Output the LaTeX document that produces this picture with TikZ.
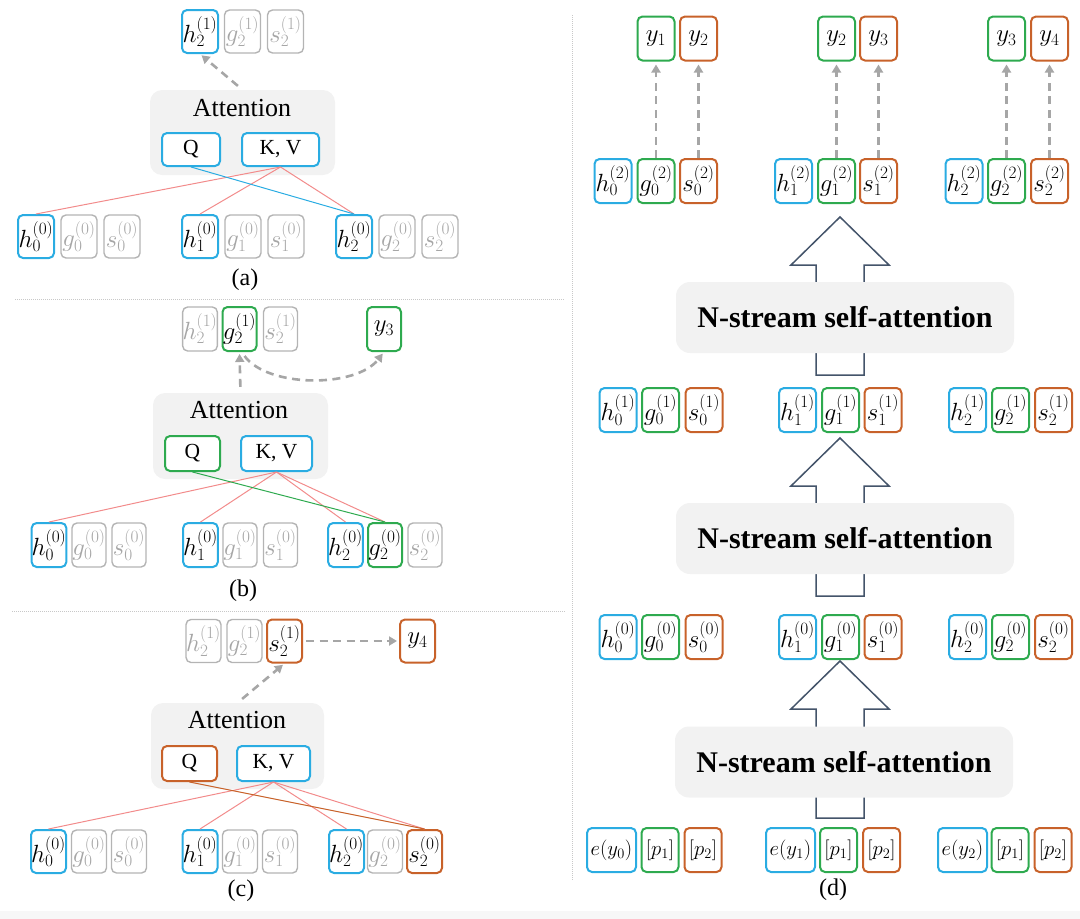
\documentclass[tikz,border=0pt]{standalone}
\usepackage{fontspec}
\setmainfont{Liberation Serif}
\usetikzlibrary{arrows.meta}
\definecolor{cblue}{HTML}{2AACE2}
\definecolor{cgreen}{HTML}{2EAA4F}
\definecolor{corange}{HTML}{C8622A}
\definecolor{cgraybox}{HTML}{B4B4B4}
\definecolor{cgraytext}{HTML}{A6A6A6}
\definecolor{attfill}{HTML}{F2F2F2}
\definecolor{cred}{HTML}{F28B8B}
\definecolor{carrow}{HTML}{44546A}
\definecolor{cdash}{HTML}{A6A6A6}
\definecolor{csep}{HTML}{C8C8C8}
\definecolor{cstrip}{HTML}{F7F7F7}
\begin{document}
\begin{tikzpicture}[x=1pt,y=-1pt,
  box/.style={draw, rounded corners=5pt, line width=2pt, inner sep=0pt, fill=white,
    font=\fontsize{23}{26}\selectfont},
  pa/.style={minimum width=36pt, minimum height=43pt},
  pb/.style={minimum width=34pt, minimum height=44pt},
  pc/.style={minimum width=35pt, minimum height=43pt},
  pd/.style={minimum width=37pt, minimum height=44pt},
  inp/.style={font=\fontsize{21.5}{25}\selectfont},
  bb/.style={box, draw=cblue},
  gb/.style={box, draw=cgreen},
  ob/.style={box, draw=corange},
  nb/.style={box, draw=cgraybox, line width=1.4pt, text=cgraytext},
  qk/.style={font=\fontsize{21.5}{24}\selectfont},
  attbox/.style={fill=attfill, rounded corners=12pt, draw=none, inner sep=0pt},
  atttext/.style={font=\fontsize{26}{30}\selectfont, inner sep=0pt},
  caption/.style={font=\fontsize{24}{28}\selectfont, inner sep=0pt},
  nsbox/.style={fill=attfill, rounded corners=14pt, draw=none, inner sep=0pt,
    minimum width=338pt, minimum height=71pt, font=\fontsize{30}{34}\selectfont\bfseries},
  redline/.style={draw=cred, line width=1pt},
  dasharrow/.style={draw=cdash, line width=2.6pt, dash pattern=on 8pt off 5.5pt,
    -{Triangle[length=8pt,width=9pt]}},
  sep/.style={draw=csep, line width=0.8pt, dash pattern=on 1pt off 1pt},
  bigarrow/.style={draw=carrow, line width=1.5pt, fill=white, line join=miter}
]
\useasboundingbox (0,0) rectangle (1080,919);
\fill[cstrip] (0,911) rectangle (1080,919);

% separators
\draw[sep] (15,299) -- (565,299);
\draw[sep] (12,611) -- (565,611);
\draw[sep] (572,15) -- (572,880);

%%%%%%%%%%%%%%%% panel (a)
\node[attbox, minimum width=185pt, minimum height=85pt] (attA) at (242.5,132.5) {};
\node[atttext] (attAt) at (242,108) {Attention};
\node[bb, qk, minimum width=58pt, minimum height=33pt] (qA) at (191,149.5) {Q};
\node[bb, qk, minimum width=77pt, minimum height=33pt] (kvA) at (280.5,149.5) {K, V};

\node[bb,pa] (h21a) at (200,31.5) {$h_2^{(1)}$};
\node[nb,pa] (g21a) at (242.5,31.5) {$g_2^{(1)}$};
\node[nb,pa] (s21a) at (285.5,31.5) {$s_2^{(1)}$};

\node[bb,pa] (h0a) at (36,236.5) {$h_0^{(0)}$};
\node[nb,pa] (g0a) at (79,236.5) {$g_0^{(0)}$};
\node[nb,pa] (s0a) at (122,236.5) {$s_0^{(0)}$};
\node[bb,pa] (h1a) at (200,236.5) {$h_1^{(0)}$};
\node[nb,pa] (g1a) at (243,236.5) {$g_1^{(0)}$};
\node[nb,pa] (s1a) at (286,236.5) {$s_1^{(0)}$};
\node[bb,pa] (h2a) at (354,236.5) {$h_2^{(0)}$};
\node[nb,pa] (g2a) at (397,236.5) {$g_2^{(0)}$};
\node[nb,pa] (s2a) at (440,236.5) {$s_2^{(0)}$};

\draw[redline] (kvA.south) -- (h0a.north);
\draw[redline] (kvA.south) -- (h1a.north);
\draw[redline] (kvA.south) -- (h2a.north);
\draw[draw=cblue, line width=1pt] (qA.south) -- (h2a.north);
\draw[dasharrow, shorten <=6pt, shorten >=2pt] (attA.north) -- (h21a.south);
\node[caption] (capA) at (245,280) {(a)};

%%%%%%%%%%%%%%%% panel (b)
\node[attbox, minimum width=175pt, minimum height=86pt] (attB) at (240.5,436) {};
\node[atttext] (attBt) at (239,410) {Attention};
\node[gb, qk, minimum width=55pt, minimum height=35pt] (qB) at (192.5,453.5) {Q};
\node[bb, qk, minimum width=71pt, minimum height=35pt] (kvB) at (276.5,453.5) {K, V};

\node[nb,pb] (h21b) at (200,329) {$h_2^{(1)}$};
\node[gb,pb] (g21b) at (239.5,329) {$g_2^{(1)}$};
\node[nb,pb] (s21b) at (280.5,329) {$s_2^{(1)}$};
\node[gb,pb] (y3b) at (384,329) {$y_3$};

\node[bb,pb] (h0b) at (49,545) {$h_0^{(0)}$};
\node[nb,pb] (g0b) at (89,545) {$g_0^{(0)}$};
\node[nb,pb] (s0b) at (129,545) {$s_0^{(0)}$};
\node[bb,pb] (h1b) at (200.5,545) {$h_1^{(0)}$};
\node[nb,pb] (g1b) at (240,545) {$g_1^{(0)}$};
\node[nb,pb] (s1b) at (280.5,545) {$s_1^{(0)}$};
\node[bb,pb] (h2b) at (345.5,545) {$h_2^{(0)}$};
\node[gb,pb] (g2b) at (385,545) {$g_2^{(0)}$};
\node[nb,pb] (s2b) at (425,545) {$s_2^{(0)}$};

\draw[redline] (kvB.south) -- (h0b.north);
\draw[redline] (kvB.south) -- (h1b.north);
\draw[redline] (kvB.south) -- (h2b.north);
\draw[redline] (kvB.south) -- (g2b.north);
\draw[draw=cgreen, line width=1pt] (qB.south) -- (g2b.north);
\draw[dasharrow, shorten <=6pt, shorten >=2pt] (attB.north) -- (g21b.south);
\draw[dasharrow, shorten >=2pt] ([xshift=5pt,yshift=-4pt]g21b.south) .. controls (268,388) and (356,388) .. (y3b.south);
\node[caption] (capB) at (243,591) {(b)};

%%%%%%%%%%%%%%%% panel (c)
\node[attbox, minimum width=173pt, minimum height=86pt] (attC) at (237.5,746) {};
\node[atttext] (attCt) at (237,720) {Attention};
\node[ob, qk, minimum width=55pt, minimum height=35pt] (qC) at (189.5,763.5) {Q};
\node[bb, qk, minimum width=73pt, minimum height=35pt] (kvC) at (273.5,763.5) {K, V};

\node[nb,pc] (h21c) at (203.5,641) {$h_2^{(1)}$};
\node[nb,pc] (g21c) at (244.5,641) {$g_2^{(1)}$};
\node[ob,pc] (s21c) at (284.5,641) {$s_2^{(1)}$};
\node[ob,pc] (y4c) at (417.5,641) {$y_4$};

\node[bb,pc] (h0c) at (48.5,851.5) {$h_0^{(0)}$};
\node[nb,pc] (g0c) at (89,851.5) {$g_0^{(0)}$};
\node[nb,pc] (s0c) at (129,851.5) {$s_0^{(0)}$};
\node[bb,pc] (h1c) at (200,851.5) {$h_1^{(0)}$};
\node[nb,pc] (g1c) at (240,851.5) {$g_1^{(0)}$};
\node[nb,pc] (s1c) at (280,851.5) {$s_1^{(0)}$};
\node[bb,pc] (h2c) at (346.5,851.5) {$h_2^{(0)}$};
\node[nb,pc] (g2c) at (385,851.5) {$g_2^{(0)}$};
\node[ob,pc] (s2c) at (424.5,851.5) {$s_2^{(0)}$};

\draw[redline] (kvC.south) -- (h0c.north);
\draw[redline] (kvC.south) -- (h1c.north);
\draw[redline] (kvC.south) -- (h2c.north);
\draw[redline] (kvC.south) -- (s2c.north);
\draw[draw=corange, line width=1pt] (qC.south) -- (s2c.north);
\draw[dasharrow, shorten <=6pt, shorten >=2pt] (attC.north) -- (s21c.south);
\draw[dasharrow, shorten <=3pt, shorten >=2pt] (s21c.east) -- (y4c.west);
\node[caption] (capC) at (241,891) {(c)};

%%%%%%%%%%%%%%%% panel (d)
% big arrows (drawn first, boxes cover the middle)
\draw[bigarrow] (840,217) -- (889,265) -- (864,265) -- (864,375) -- (816,375) -- (816,265) -- (791,265) -- cycle;
\draw[bigarrow] (840,438) -- (889,486) -- (864,486) -- (864,596) -- (816,596) -- (816,486) -- (791,486) -- cycle;
\draw[bigarrow] (840,661) -- (889,709) -- (864,709) -- (864,818) -- (816,818) -- (816,709) -- (791,709) -- cycle;

\node[nsbox] (ns1) at (845,317.5) {N-stream self-attention};
\node[nsbox] (ns2) at (845,538.5) {N-stream self-attention};
\node[nsbox] (ns3) at (844,762) {N-stream self-attention};

% outputs
\node[gb,pd] (y1d) at (656,38.5) {$y_1$};
\node[ob,pd] (y2d) at (698.5,38.5) {$y_2$};
\node[gb,pd] (y2e) at (836.5,38.5) {$y_2$};
\node[ob,pd] (y3e) at (878.5,38.5) {$y_3$};
\node[gb,pd] (y3f) at (1006.5,38.5) {$y_3$};
\node[ob,pd] (y4f) at (1049.5,38.5) {$y_4$};

% layer 2
\node[bb,pd] (h02) at (613,181) {$h_0^{(2)}$};
\node[gb,pd] (g02) at (656,181) {$g_0^{(2)}$};
\node[ob,pd] (s02) at (698.5,181) {$s_0^{(2)}$};
\node[bb,pd] (h12) at (793.5,181) {$h_1^{(2)}$};
\node[gb,pd] (g12) at (836.5,181) {$g_1^{(2)}$};
\node[ob,pd] (s12) at (878.5,181) {$s_1^{(2)}$};
\node[bb,pd] (h22) at (964,181) {$h_2^{(2)}$};
\node[gb,pd] (g22) at (1006.5,181) {$g_2^{(2)}$};
\node[ob,pd] (s22) at (1049.5,181) {$s_2^{(2)}$};

\draw[dasharrow, shorten >=3pt] (g02.north) -- (y1d.south);
\draw[dasharrow, shorten >=3pt] (s02.north) -- (y2d.south);
\draw[dasharrow, shorten >=3pt] (g12.north) -- (y2e.south);
\draw[dasharrow, shorten >=3pt] (s12.north) -- (y3e.south);
\draw[dasharrow, shorten >=3pt] (g22.north) -- (y3f.south);
\draw[dasharrow, shorten >=3pt] (s22.north) -- (y4f.south);

% layer 1
\node[bb,pd] (h01) at (618,410) {$h_0^{(1)}$};
\node[gb,pd] (g01) at (660.5,410) {$g_0^{(1)}$};
\node[ob,pd] (s01) at (704,410) {$s_0^{(1)}$};
\node[bb,pd] (h11) at (797.5,410) {$h_1^{(1)}$};
\node[gb,pd] (g11) at (840.5,410) {$g_1^{(1)}$};
\node[ob,pd] (s11) at (883,410) {$s_1^{(1)}$};
\node[bb,pd] (h21) at (967.5,410) {$h_2^{(1)}$};
\node[gb,pd] (g21) at (1010.5,410) {$g_2^{(1)}$};
\node[ob,pd] (s21) at (1053.5,410) {$s_2^{(1)}$};

% layer 0
\node[bb,pd] (h00) at (618,637) {$h_0^{(0)}$};
\node[gb,pd] (g00) at (660.5,637) {$g_0^{(0)}$};
\node[ob,pd] (s00) at (704,637) {$s_0^{(0)}$};
\node[bb,pd] (h10) at (797.5,637) {$h_1^{(0)}$};
\node[gb,pd] (g10) at (840.5,637) {$g_1^{(0)}$};
\node[ob,pd] (s10) at (883,637) {$s_1^{(0)}$};
\node[bb,pd] (h20) at (967.5,637) {$h_2^{(0)}$};
\node[gb,pd] (g20) at (1010.5,637) {$g_2^{(0)}$};
\node[ob,pd] (s20) at (1053.5,637) {$s_2^{(0)}$};

% inputs
\node[bb,pd,inp,minimum width=49pt] (e0) at (611.5,850) {$e(y_0)$};
\node[gb,pd,inp] (p10) at (660,850) {$[p_1]$};
\node[ob,pd,inp] (p20) at (703,850) {$[p_2]$};
\node[bb,pd,inp,minimum width=49pt] (e1) at (790.5,850) {$e(y_1)$};
\node[gb,pd,inp] (p11) at (838.5,850) {$[p_1]$};
\node[ob,pd,inp] (p21) at (881.5,850) {$[p_2]$};
\node[bb,pd,inp,minimum width=49pt] (e2) at (962.5,850) {$e(y_2)$};
\node[gb,pd,inp] (p12) at (1010,850) {$[p_1]$};
\node[ob,pd,inp] (p22) at (1053,850) {$[p_2]$};

\node[caption] (capD) at (833,890) {(d)};
\end{tikzpicture}
\end{document}
